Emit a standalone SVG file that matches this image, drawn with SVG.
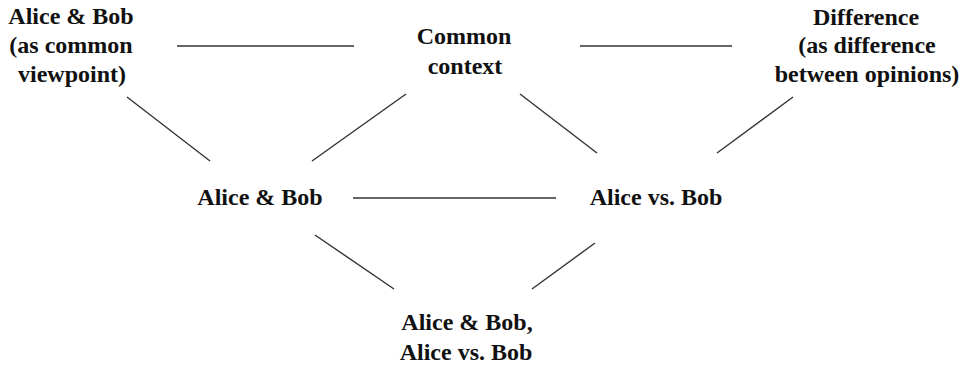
<svg xmlns="http://www.w3.org/2000/svg" width="965" height="367" viewBox="0 0 965 367">
<style>
text{font-family:"Liberation Serif","Times New Roman",serif;font-weight:bold;font-size:24px;fill:#111;text-anchor:middle}
.e line{stroke:#333;stroke-width:1.4}
</style>
<rect width="965" height="367" fill="#fff"/>
<g id="n-ab-view"><text x="71" y="24">Alice &amp; Bob</text><text x="71" y="53">(as common</text><text x="72" y="82">viewpoint)</text></g>
<g id="n-common"><text x="464" y="44">Common</text><text x="465" y="74">context</text></g>
<g id="n-diff"><text x="866" y="25">Difference</text><text x="867" y="53">(as difference</text><text x="867" y="82">between opinions)</text></g>
<g id="n-ab"><text x="260" y="205">Alice &amp; Bob</text></g>
<g id="n-avb"><text x="656" y="205">Alice vs. Bob</text></g>
<g id="n-both"><text x="467" y="330">Alice &amp; Bob,</text><text x="466" y="360">Alice vs. Bob</text></g>
<g class="e" id="edges">
<line x1="177" y1="46" x2="354" y2="46"/>
<line x1="580" y1="46" x2="732" y2="46"/>
<line x1="127" y1="97" x2="210" y2="161"/>
<line x1="406" y1="94" x2="312" y2="161"/>
<line x1="520" y1="94" x2="597" y2="153"/>
<line x1="793" y1="97" x2="717" y2="153"/>
<line x1="353" y1="198" x2="556" y2="198"/>
<line x1="315" y1="235" x2="394" y2="289"/>
<line x1="595" y1="243" x2="532" y2="289"/>
</g>
</svg>
